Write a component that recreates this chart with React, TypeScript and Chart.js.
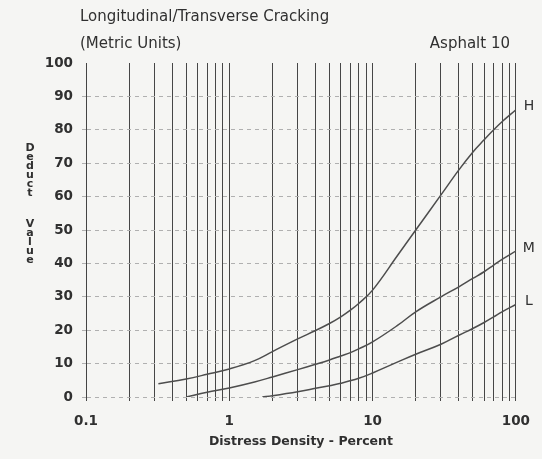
import { useEffect, useRef } from 'react';
import { Chart, registerables } from 'chart.js';

Chart.register(...registerables);

const titleLines = ['Longitudinal/Transverse Cracking', '(Metric Units)'];
const chartTag = 'Asphalt 10';
const xAxisTitle = 'Distress Density - Percent';
const yAxisTitleWords = ['Deduct', 'Value'];

const xGridValues = [
  0.1, 0.2, 0.3, 0.4, 0.5, 0.6, 0.7, 0.8, 0.9,
  1, 2, 3, 4, 5, 6, 7, 8, 9,
  10, 20, 30, 40, 50, 60, 70, 80, 90, 100,
];
const xLabelValues = [0.1, 1, 10, 100];

const seriesNames = ['H', 'M', 'L'];

const highDensity = [0.32, 0.5, 0.7, 1, 1.5, 2, 3, 4, 5, 6, 7, 8, 10, 15, 20, 30, 40, 50, 60, 70, 80, 100];
const highDeduct = [4, 5.4, 6.8, 8.4, 10.9, 13.6, 17.4, 19.9, 22, 24, 26, 28, 32, 42.5, 50, 60.5, 68, 73.3, 77, 80, 82.4, 86];

const midDensity = [0.5, 0.7, 1, 1.5, 2, 3, 4, 5, 6, 7, 8, 10, 15, 20, 30, 40, 50, 60, 70, 80, 100];
const midDeduct = [0, 1.4, 2.7, 4.5, 6, 8.2, 9.8, 11.1, 12.3, 13.3, 14.4, 16.5, 21.5, 25.5, 30, 33, 35.5, 37.5, 39.5, 41.2, 43.7];

const lowDensity = [1.7, 2, 3, 4, 5, 6, 8, 10, 15, 20, 30, 40, 50, 60, 70, 80, 100];
const lowDeduct = [0, 0.4, 1.6, 2.6, 3.4, 4.1, 5.6, 7.2, 10.5, 12.8, 15.8, 18.5, 20.5, 22.3, 24, 25.5, 27.7];

const BG = '#f5f5f3';
const INK = '#303030';

const toPoints = (xs: number[], ys: number[]) => xs.map((x, i) => ({ x, y: ys[i] }));

const annotPlugin = {
  id: 'annot',
  beforeDraw(chart: any) {
    const { ctx, width, height } = chart;
    ctx.save();
    ctx.fillStyle = BG;
    ctx.fillRect(0, 0, width, height);
    ctx.restore();
  },
  afterDraw(chart: any) {
    const { ctx, chartArea, scales } = chart;
    ctx.save();
    ctx.fillStyle = INK;
    ctx.textBaseline = 'middle';
    ctx.font = '15px "DejaVu Sans"';
    ctx.textAlign = 'left';
    ctx.fillText(titleLines[0], 80, 17);
    ctx.fillText(titleLines[1], 80, 44);
    ctx.textAlign = 'right';
    ctx.fillText(chartTag, 510, 44);

    // vertical stacked y-axis title
    ctx.font = 'bold 11px "DejaVu Sans"';
    ctx.textAlign = 'center';
    const pitch = 9;
    let yPos = chartArea.top + 85;
    yAxisTitleWords.forEach((w, wi) => {
      if (wi > 0) yPos += pitch * 2.5;
      for (const ch of w) {
        ctx.fillText(ch, 30, yPos);
        yPos += pitch;
      }
    });

    // series labels at right
    ctx.font = '14px "DejaVu Sans"';
    ctx.textAlign = 'center';
    chart.data.datasets.forEach((ds: any, i: number) => {
      const last = ds.data[ds.data.length - 1];
      const py = scales.y.getPixelForValue(last.y) - 3;
      ctx.fillText(seriesNames[i], chartArea.right + 13, py);
    });
    ctx.restore();
  },
};

export default function App() {
  const ref = useRef<HTMLCanvasElement | null>(null);

  useEffect(() => {
    document.body.style.margin = '0';
    document.body.style.background = BG;
    if (!ref.current) return;
    const lineStyle = {
      borderColor: '#4d4d4d',
      borderWidth: 1.5,
      pointRadius: 0,
      fill: false,
      tension: 0.4,
    };
    const chart = new Chart(ref.current, {
      type: 'line',
      data: {
        datasets: [
          { label: seriesNames[0], data: toPoints(highDensity, highDeduct), ...lineStyle },
          { label: seriesNames[1], data: toPoints(midDensity, midDeduct), ...lineStyle },
          { label: seriesNames[2], data: toPoints(lowDensity, lowDeduct), ...lineStyle },
        ],
      },
      options: {
        animation: false,
        responsive: true,
        maintainAspectRatio: false,
        layout: { padding: { top: 63, right: 24, left: 0, bottom: 0 } },
        plugins: { legend: { display: false }, tooltip: { enabled: false }, title: { display: false } },
        scales: {
          x: {
            type: 'logarithmic',
            min: 0.1,
            max: 100,
            afterBuildTicks: (s: any) => {
              s.ticks = xGridValues.map((v) => ({ value: v }));
            },
            afterFit: (s: any) => {
              s.height = 62;
            },
            ticks: {
              autoSkip: false,
              maxRotation: 0,
              padding: 12,
              color: INK,
              font: { family: '"DejaVu Sans"', size: 13.5, weight: 'bold' },
              callback: (v: any) => (xLabelValues.includes(Number(v)) ? String(v) : ''),
            },
            grid: { color: '#464646', lineWidth: 1, tickLength: 4, drawTicks: true },
            border: { display: false },
            title: {
              display: true,
              text: xAxisTitle,
              color: INK,
              font: { family: '"DejaVu Sans"', size: 12.5, weight: 'bold' },
              padding: { top: 0, bottom: 10 },
            },
          },
          y: {
            min: 0,
            max: 100,
            afterFit: (s: any) => {
              s.width = 86;
            },
            ticks: {
              stepSize: 10,
              padding: 9,
              color: INK,
              font: { family: '"DejaVu Sans"', size: 13.5, weight: 'bold' },
            },
            grid: {
              color: (c: any) => (c.tick && c.tick.value === 100 ? 'rgba(0,0,0,0)' : '#b0b0b0'),
              lineWidth: 1,
              tickLength: 4,
              drawTicks: true,
            },
            border: { display: true, color: '#444444', width: 1, dash: [4, 4] },
          },
        },
      },
      plugins: [annotPlugin],
    });
    return () => chart.destroy();
  }, []);

  return (
    <div style={{ width: 542, height: 459, position: 'relative', background: BG }}>
      <canvas ref={ref} />
    </div>
  );
}
